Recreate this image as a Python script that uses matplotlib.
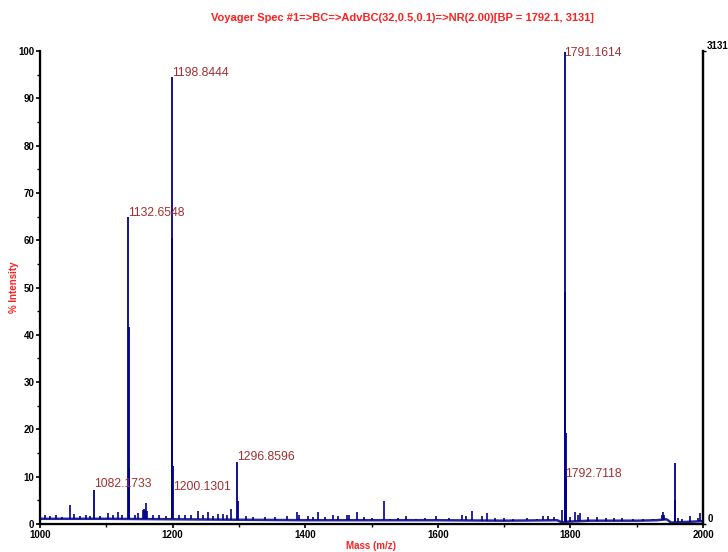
import matplotlib.pyplot as plt
import numpy as np
from matplotlib.ticker import MultipleLocator

# main peaks (m/z, % intensity), incl. the shoulders around each peak
peak_mz = [1082.17, 1132.65, 1133.6, 1134.6, 1198.84, 1199.8, 1200.13,
           1296.86, 1297.9, 1791.16, 1792.1, 1792.71, 1793.7, 1957.6, 1958.5]
peak_int = [7.2, 65.0, 41.6, 11.8, 94.5, 60.5, 12.3,
            13.1, 4.9, 99.8, 49.0, 19.2, 10.0, 12.9, 5.0]

# small noise peaks
noise_mz = [1008, 1015, 1024, 1033, 1046, 1051, 1060, 1069, 1076, 1090, 1102.6,
            1110, 1117.6, 1124, 1142.8, 1147.8, 1155, 1157, 1159, 1160.4, 1162,
            1170, 1180, 1190, 1210, 1218, 1228, 1238, 1246, 1253, 1261, 1268.5,
            1276, 1282, 1288.6, 1310, 1322, 1340, 1355, 1372, 1387, 1390, 1403.7,
            1412, 1419.8, 1430, 1442.4, 1450, 1463.5, 1466, 1477.6, 1489, 1500.3,
            1518.9, 1528, 1540, 1551.5, 1567, 1580, 1598, 1617, 1636, 1642, 1651,
            1666, 1673.7, 1686, 1700, 1713, 1735, 1750, 1758, 1766, 1775, 1786.8,
            1800, 1807, 1811, 1814.5, 1826, 1839.7, 1853, 1866, 1877.4, 1895,
            1910, 1925, 1938, 1939.5, 1941, 1962, 1968, 1980, 1993, 1995.5]
noise_int = [1.8, 1.6, 2.0, 1.5, 4.0, 2.2, 1.6, 2.0, 1.7, 1.6, 2.3,
             1.8, 2.5, 2.0, 2.0, 2.4, 3.0, 3.2, 3.0, 4.5, 2.8,
             1.8, 2.0, 1.6, 1.8, 2.0, 1.9, 2.8, 1.8, 2.5, 1.7, 2.2,
             2.2, 1.8, 3.2, 1.6, 1.5, 1.5, 1.4, 1.6, 2.5, 1.8, 1.7,
             1.5, 2.6, 1.5, 1.8, 1.6, 1.8, 2.0, 2.5, 1.4, 1.2,
             4.9, 1.1, 1.3, 1.7, 1.1, 1.3, 1.7, 1.2, 1.8, 1.6, 2.8,
             1.6, 2.3, 1.2, 1.2, 1.1, 1.2, 1.1, 1.6, 1.7, 1.4, 3.0,
             1.5, 2.5, 2.0, 2.3, 1.4, 1.4, 1.2, 1.3, 1.2, 1.1,
             1.0, 1.1, 2.0, 2.6, 1.8, 1.2, 1.1, 1.7, 1.3, 2.3]

# baseline level
base_mz = [1000, 1100, 1200, 1300, 1400, 1500, 1600, 1700, 1780, 1788, 1796,
           1830, 1900, 1930, 1945, 1952, 2000]
base_int = [1.1, 1.1, 1.0, 0.9, 0.8, 0.8, 0.8, 0.7, 0.8, 0.3, 0.5,
            0.7, 0.7, 0.8, 1.0, 0.3, 0.6]

# labelled peaks: text, x, y
label_txt = ["1082.1733", "1132.6548", "1198.8444", "1200.1301",
             "1296.8596", "1791.1614", "1792.7118"]
label_x = [1082.17, 1132.65, 1198.84, 1200.13, 1296.86, 1791.16, 1792.71]
label_y = [8.5, 65.8, 95.3, 7.8, 14.2, 99.6, 10.6]

title = "Voyager Spec #1=>BC=>AdvBC(32,0.5,0.1)=>NR(2.00)[BP = 1792.1, 3131]"
bp_counts = 3131

plt.rcParams['font.family'] = ['Liberation Sans', 'DejaVu Sans']
red = '#ff2020'
navy = '#00008b'

fig = plt.figure(figsize=(7.28, 5.52), dpi=100)
ax = fig.add_axes([40 / 728, 28 / 552, 663 / 728, 473 / 552])

ax.plot(base_mz, base_int, color=navy, lw=1.8, alpha=0.85)
bottoms = np.interp(noise_mz, base_mz, base_int)
ax.vlines(noise_mz, bottoms, noise_int, color=navy, lw=1.2)
bottoms = np.interp(peak_mz, base_mz, base_int)
ax.vlines(peak_mz, bottoms, peak_int, color=navy, lw=1.3)

for t, x, y in zip(label_txt, label_x, label_y):
    ax.text(x, y, t, color='#a33030', fontsize=8.8, ha='left', va='center',
            clip_on=False)

ax.set_xlim(1000, 2000)
ax.set_ylim(0, 100)
ax.xaxis.set_major_locator(MultipleLocator(200))
ax.xaxis.set_minor_locator(MultipleLocator(100))
ax.yaxis.set_major_locator(MultipleLocator(10))
ax.yaxis.set_minor_locator(MultipleLocator(5))
ax.spines['top'].set_visible(False)
for s in ['left', 'bottom', 'right']:
    ax.spines[s].set_linewidth(1.6)
ax.tick_params(which='major', length=3, width=1.2, labelsize=7, pad=1)
ax.tick_params(which='minor', length=2, width=1.0)
for lbl in ax.get_xticklabels() + ax.get_yticklabels():
    lbl.set_fontweight('bold')

ax2 = ax.twinx()
ax2.set_ylim(0, bp_counts)
ax2.set_yticks([0, bp_counts])
ax2.spines['top'].set_visible(False)
ax2.spines['right'].set_linewidth(1.6)
ax2.tick_params(length=2, width=1.0, labelsize=7, pad=1)
for lbl in ax2.get_yticklabels():
    lbl.set_fontweight('bold')
    lbl.set_va('bottom')

# axis titles placed in figure pixels like the instrument printout
fig.text(371.5 / 728, 1 - 546 / 552, "Mass (m/z)", color=red, fontsize=7,
         fontweight='bold', ha='center', va='center')
fig.text(14 / 728, 1 - 287 / 552, "% Intensity", color=red, fontsize=7,
         fontweight='bold', ha='center', va='center', rotation=90)

fig.text(402 / 728, 1 - 18 / 552, title, color=red, fontsize=8, fontweight='bold',
         ha='center', va='center')

fig.savefig("out.png", dpi=100)
